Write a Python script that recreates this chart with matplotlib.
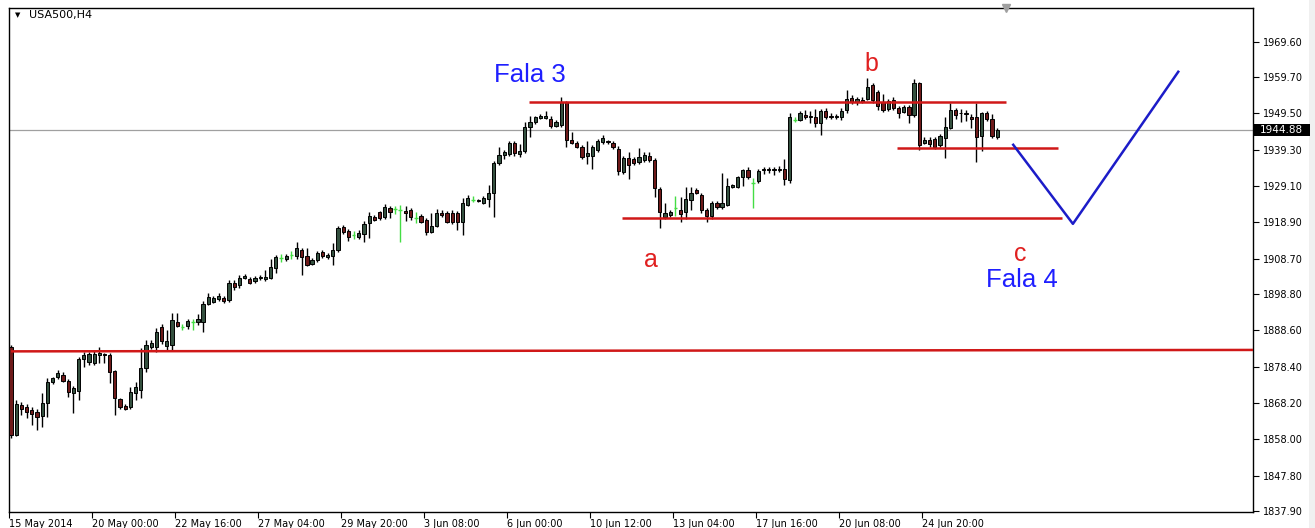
import matplotlib
matplotlib.use("Agg")
import matplotlib.pyplot as plt
from matplotlib.transforms import blended_transform_factory
from matplotlib.patches import Rectangle

# ---------------- data (H4 candles, USA500) ----------------
opens = [1884.0, 1859.3, 1867.6, 1867.2, 1866.2, 1865.6, 1864.6, 1868.3, 1874.2, 1875.6,
         1876.1, 1874.4, 1871.1, 1871.6, 1880.6, 1879.8, 1879.5, 1881.7, 1882.0, 1881.7,
         1877.3, 1869.4, 1867.4, 1867.1, 1871.1, 1871.9, 1878.1, 1884.0, 1884.0, 1889.6,
         1884.3, 1884.5, 1891.0, 1889.6, 1889.9, 1891.0, 1891.0, 1891.0, 1896.0, 1896.6,
         1897.5, 1897.7, 1897.2, 1902.0, 1901.4, 1903.4, 1903.1, 1902.5, 1903.4, 1903.0,
         1903.4, 1906.2, 1909.0, 1908.7, 1909.8, 1909.5, 1911.2, 1909.5, 1907.3, 1908.4,
         1910.6, 1909.2, 1909.5, 1911.2, 1917.7, 1916.6, 1915.5, 1914.9, 1915.7, 1918.8,
         1920.5, 1921.9, 1920.5, 1923.0, 1922.6, 1922.4, 1922.2, 1922.4, 1920.2, 1920.8,
         1919.6, 1916.3, 1917.9, 1921.6, 1921.6, 1921.6, 1921.6, 1919.1, 1923.9, 1925.3,
         1925.2, 1924.4, 1925.5, 1927.2, 1935.6, 1937.9, 1938.2, 1941.3, 1938.0, 1939.0,
         1945.7, 1947.1, 1948.2, 1948.3, 1948.0, 1946.0, 1946.3, 1952.8, 1942.1, 1941.3,
         1940.1, 1937.6, 1937.6, 1939.3, 1941.5, 1941.7, 1941.3, 1939.6, 1933.1, 1937.0,
         1936.8, 1935.9, 1936.5, 1937.6, 1936.5, 1928.3, 1920.5, 1921.1, 1923.0, 1922.4,
         1921.9, 1925.3, 1928.0, 1926.6, 1922.4, 1920.8, 1924.4, 1923.3, 1923.9, 1928.9,
         1928.9, 1931.7, 1933.7, 1930.0, 1930.5, 1933.5, 1933.8, 1933.5, 1934.0, 1934.0,
         1930.9, 1947.7, 1947.7, 1949.1, 1948.5, 1948.5, 1946.9, 1950.2, 1948.8, 1948.6,
         1948.5, 1950.5, 1953.9, 1952.7, 1953.4, 1953.6, 1957.5, 1955.6, 1952.8, 1950.8,
         1953.3, 1951.1, 1950.0, 1951.4, 1949.1, 1958.1, 1941.3, 1942.1, 1942.4, 1940.7,
         1942.7, 1945.5, 1950.5, 1949.7, 1949.7, 1948.5, 1948.5, 1943.2, 1949.7, 1948.0,
         1942.9]
highs = [1884.5, 1869.1, 1868.6, 1868.0, 1867.0, 1866.5, 1871.1, 1875.3, 1875.6, 1877.6,
         1876.8, 1875.0, 1873.0, 1881.2, 1882.6, 1882.6, 1883.0, 1884.0, 1882.3, 1882.3,
         1877.6, 1869.7, 1868.0, 1872.8, 1874.0, 1883.7, 1886.0, 1886.0, 1889.3, 1890.3,
         1888.8, 1893.5, 1893.5, 1890.3, 1891.8, 1891.8, 1893.3, 1896.9, 1899.0, 1898.3,
         1899.0, 1898.2, 1902.6, 1902.6, 1904.0, 1904.5, 1903.6, 1903.9, 1904.2, 1905.6,
         1908.7, 1909.8, 1910.1, 1910.1, 1911.0, 1913.5, 1911.8, 1911.8, 1908.8, 1910.8,
         1911.2, 1910.4, 1913.2, 1918.0, 1918.3, 1917.0, 1916.6, 1916.9, 1919.4, 1921.9,
         1921.0, 1922.2, 1924.0, 1923.6, 1923.5, 1923.8, 1923.6, 1923.0, 1921.7, 1921.3,
         1920.2, 1921.6, 1922.6, 1922.4, 1922.0, 1922.4, 1922.2, 1925.8, 1926.7, 1926.3,
         1925.6, 1926.3, 1929.5, 1936.1, 1940.1, 1939.3, 1941.8, 1941.8, 1941.0, 1947.1,
         1948.8, 1948.8, 1949.4, 1950.2, 1948.8, 1947.7, 1954.2, 1953.0, 1944.3, 1941.8,
         1940.6, 1941.8, 1940.6, 1942.4, 1943.5, 1942.1, 1941.8, 1940.4, 1937.6, 1938.7,
         1937.3, 1939.8, 1938.7, 1938.8, 1937.0, 1928.9, 1924.4, 1922.4, 1926.3, 1926.1,
         1928.9, 1928.9, 1928.6, 1927.2, 1923.0, 1924.9, 1924.9, 1932.8, 1931.4, 1929.7,
         1932.0, 1934.0, 1934.5, 1931.4, 1934.0, 1934.5, 1934.6, 1934.5, 1934.8, 1936.8,
         1949.7, 1948.5, 1950.2, 1950.5, 1950.2, 1950.8, 1950.8, 1951.1, 1949.7, 1949.4,
         1951.1, 1956.1, 1954.7, 1954.2, 1954.0, 1959.5, 1958.1, 1956.1, 1955.0, 1953.6,
         1954.0, 1951.6, 1952.0, 1952.0, 1959.2, 1958.3, 1943.0, 1942.9, 1942.8, 1943.8,
         1948.5, 1952.5, 1951.1, 1950.8, 1950.5, 1949.4, 1952.5, 1950.0, 1950.2, 1949.2,
         1945.5]
lows = [1858.5, 1858.8, 1864.8, 1864.0, 1862.0, 1860.6, 1861.6, 1864.3, 1873.4, 1875.0,
        1874.0, 1869.9, 1865.5, 1869.1, 1878.4, 1879.0, 1879.0, 1879.5, 1879.5, 1873.9,
        1864.9, 1866.5, 1866.2, 1866.5, 1869.0, 1869.7, 1877.0, 1883.4, 1882.6, 1884.8,
        1882.7, 1883.1, 1889.5, 1888.8, 1889.0, 1888.6, 1890.1, 1888.0, 1895.7, 1896.2,
        1896.8, 1896.4, 1896.6, 1899.9, 1900.5, 1903.0, 1901.6, 1902.0, 1902.8, 1902.5,
        1903.0, 1904.8, 1907.9, 1908.2, 1908.7, 1908.7, 1904.2, 1906.7, 1906.9, 1907.9,
        1908.9, 1908.6, 1907.0, 1910.6, 1915.7, 1913.8, 1914.3, 1914.3, 1913.5, 1914.6,
        1919.3, 1919.6, 1920.0, 1920.2, 1921.3, 1913.5, 1919.3, 1919.6, 1918.7, 1918.7,
        1915.4, 1915.9, 1917.5, 1920.5, 1918.7, 1918.4, 1916.8, 1915.4, 1923.6, 1924.6,
        1924.7, 1924.1, 1923.3, 1920.5, 1935.0, 1936.8, 1937.6, 1937.6, 1937.3, 1938.4,
        1943.0, 1946.6, 1947.9, 1948.0, 1945.5, 1945.7, 1945.7, 1940.1, 1940.8, 1939.8,
        1936.8, 1935.3, 1934.0, 1938.8, 1941.0, 1941.0, 1939.6, 1932.3, 1932.6, 1931.2,
        1935.1, 1935.3, 1936.0, 1935.8, 1926.1, 1917.4, 1920.0, 1920.5, 1920.8, 1919.1,
        1920.0, 1922.5, 1926.8, 1921.5, 1919.1, 1920.0, 1922.8, 1922.8, 1923.6, 1928.5,
        1928.6, 1929.0, 1931.0, 1923.0, 1930.0, 1932.5, 1932.8, 1932.3, 1933.0, 1929.5,
        1930.0, 1947.0, 1947.4, 1948.0, 1946.9, 1945.7, 1943.5, 1947.9, 1947.9, 1947.9,
        1947.7, 1949.7, 1952.2, 1952.0, 1952.5, 1953.3, 1952.5, 1950.5, 1950.0, 1950.2,
        1950.5, 1948.3, 1949.5, 1946.9, 1948.5, 1939.3, 1940.8, 1940.0, 1939.6, 1940.1,
        1937.0, 1945.0, 1948.0, 1947.0, 1947.5, 1945.5, 1935.9, 1939.0, 1947.5, 1942.7,
        1942.2]
closes = [1859.3, 1868.0, 1866.6, 1865.6, 1865.0, 1864.2, 1868.3, 1874.2, 1875.3, 1876.6,
          1874.4, 1871.4, 1872.5, 1880.6, 1881.7, 1882.0, 1882.0, 1882.3, 1881.8, 1877.0,
          1869.7, 1867.1, 1866.5, 1871.4, 1872.8, 1878.1, 1884.5, 1885.1, 1888.2, 1885.7,
          1885.7, 1891.6, 1889.9, 1889.6, 1891.3, 1891.0, 1891.9, 1896.0, 1898.0, 1897.7,
          1898.3, 1896.9, 1902.0, 1900.8, 1903.4, 1903.9, 1902.0, 1903.4, 1903.6, 1903.6,
          1906.4, 1909.2, 1909.0, 1909.5, 1909.8, 1911.8, 1909.2, 1907.0, 1908.4, 1910.4,
          1909.5, 1909.8, 1911.2, 1917.4, 1916.3, 1914.9, 1915.5, 1916.0, 1918.5, 1920.8,
          1919.6, 1920.2, 1923.3, 1921.9, 1922.6, 1922.4, 1921.6, 1920.5, 1920.2, 1919.1,
          1916.3, 1917.9, 1921.6, 1921.0, 1919.1, 1919.1, 1919.1, 1924.4, 1925.8, 1925.3,
          1925.0, 1925.8, 1927.2, 1935.6, 1937.9, 1938.7, 1941.3, 1938.4, 1939.0, 1945.7,
          1947.1, 1948.5, 1948.8, 1948.7, 1946.0, 1947.1, 1952.8, 1942.1, 1941.3, 1940.1,
          1937.3, 1938.4, 1940.1, 1941.8, 1942.7, 1941.4, 1940.1, 1933.4, 1937.0, 1935.1,
          1935.6, 1937.3, 1937.9, 1936.5, 1928.6, 1921.9, 1921.6, 1921.9, 1923.0, 1921.3,
          1925.5, 1927.2, 1927.2, 1922.4, 1920.8, 1924.4, 1923.3, 1924.4, 1929.2, 1929.4,
          1931.7, 1933.7, 1931.7, 1930.0, 1933.4, 1933.8, 1933.5, 1934.0, 1933.7, 1931.0,
          1948.5, 1947.7, 1949.7, 1948.5, 1948.7, 1946.9, 1950.2, 1948.5, 1948.6, 1948.8,
          1950.2, 1953.6, 1952.8, 1953.6, 1952.8, 1957.0, 1953.3, 1951.6, 1950.5, 1953.0,
          1951.1, 1949.7, 1951.4, 1949.1, 1958.1, 1940.7, 1942.1, 1941.0, 1940.1, 1943.2,
          1945.7, 1950.5, 1949.1, 1949.5, 1949.3, 1948.0, 1942.9, 1949.7, 1948.0, 1943.2,
          1944.88]

x_tick_labels = ["15 May 2014", "20 May 00:00", "22 May 16:00", "27 May 04:00",
                 "29 May 20:00", "3 Jun 08:00", "6 Jun 00:00", "10 Jun 12:00",
                 "13 Jun 04:00", "17 Jun 16:00", "20 Jun 08:00", "24 Jun 20:00"]
bars_per_label = 16
y_tick_values = [1969.60, 1959.70, 1949.50, 1939.30, 1929.10, 1918.90, 1908.70,
                 1898.80, 1888.60, 1878.40, 1868.20, 1858.00, 1847.80, 1837.90]
last_price = 1944.88

# drawn levels: (start bar, end bar, start price, end price)
support_long = (0, 240, 1882.7, 1883.1)
resistance_top = (99.8, 191.7, 1952.8, 1952.8)
level_mid = (170.7, 201.7, 1939.8, 1939.8)
level_low = (117.7, 202.5, 1920.2, 1920.2)
wave_path_x = [193.1, 204.6, 224.9]
wave_path_y = [1940.7, 1918.5, 1961.2]

# ---------------- figure ----------------
W, H = 1315, 528
fig = plt.figure(figsize=(W / 100, H / 100), dpi=100)
fig.patch.set_facecolor("white")
ax = fig.add_axes([9 / W, 1 - 512 / H, (1253 - 9) / W, (512 - 8) / H])
ax.set_facecolor("white")

ax.set_xlim(-0.4, 239.3)
ax.set_ylim(1837.6, 1979.1)

bull_fill = "#34503f"
bear_fill = "#6e1a1a"
doji_col = "#44dd44"

n = len(opens)
for i in range(n):
    o, h, l, c = opens[i], highs[i], lows[i], closes[i]
    if abs(c - o) < 1e-9:
        ax.vlines(i, l, h, color=doji_col, lw=1.0, zorder=3)
        ax.hlines(o, i - 0.35, i + 0.35, color=doji_col, lw=1.0, zorder=3)
        continue
    ax.vlines(i, l, h, color="black", lw=1.0, zorder=3)
    fill = bull_fill if c > o else bear_fill
    ax.bar(i, abs(c - o), bottom=min(o, c), width=0.62, color=fill,
           edgecolor="black", linewidth=0.7, zorder=4)

# current price line
ax.axhline(last_price, color="#a0a0a0", lw=0.9, zorder=2)

red = "#d01818"
for seg in (support_long, resistance_top, level_mid, level_low):
    ax.plot([seg[0], seg[1]], [seg[2], seg[3]], color=red, lw=1.8, zorder=5,
            solid_capstyle="butt")
ax.plot(wave_path_x, wave_path_y, color="#1c1cc8", lw=1.8, zorder=5)

# annotations
fam = "Liberation Sans"
ax.text(100, 1960.3, "Fala 3", color="#1f1fff", fontsize=18.5, family=fam,
        ha="center", va="center", zorder=6)
ax.text(194.8, 1902.8, "Fala 4", color="#1f1fff", fontsize=18.5, family=fam,
        ha="center", va="center", zorder=6)
ax.text(165.7, 1963.3, "b", color="#e02020", fontsize=18, family=fam,
        ha="center", va="center", zorder=6)
ax.text(123.3, 1908.3, "a", color="#e02020", fontsize=18, family=fam,
        ha="center", va="center", zorder=6)
ax.text(194.4, 1910.0, "c", color="#e02020", fontsize=18, family=fam,
        ha="center", va="center", zorder=6)

# spines
for s in ax.spines.values():
    s.set_color("black")
    s.set_linewidth(1.0)

# y axis on right
ax.yaxis.tick_right()
ax.set_yticks(y_tick_values)
ax.set_yticklabels([f"{v:.2f}" for v in y_tick_values])
ax.tick_params(axis="y", direction="out", length=4, width=0.8, pad=3,
               labelsize=7, colors="black")

# x axis
tick_pos = [i * bars_per_label - 0.4 for i in range(len(x_tick_labels))]
ax.set_xticks(tick_pos)
ax.set_xticklabels(x_tick_labels)
ax.tick_params(axis="x", direction="out", length=4, width=0.8, pad=1,
               labelsize=7, colors="black")
for lbl in ax.get_xticklabels():
    lbl.set_horizontalalignment("left")

# last price box
tr = blended_transform_factory(ax.transAxes, ax.transData)
ax.add_patch(Rectangle((1.0, last_price - 1.75), 57 / (1253 - 9), 3.5, transform=tr,
                       facecolor="black", edgecolor="none", clip_on=False, zorder=7))
ax.text(1.0 + 28 / (1253 - 9), last_price, "1944.88", transform=tr, fontsize=7.5,
        color="white", ha="center", va="center", zorder=8, clip_on=False)

# header label
fig.text(15 / W, 1 - 15 / H, "\u25BC", fontsize=5, color="black", ha="left", va="center")
fig.text(29 / W, 1 - 15 / H, "USA500,H4", fontsize=8, color="black", ha="left", va="center")

# chart shift marker
ax.plot([191.8], [1979.1], marker="v", color="#a0a0a0", markersize=6, clip_on=False, zorder=8)

# right grey strip
fig.patches.append(Rectangle((1309 / W, 0), 6 / W, 1, transform=fig.transFigure,
                             facecolor="#f0f0f0", edgecolor="none", zorder=-1))

fig.savefig("out.png", dpi=100)
